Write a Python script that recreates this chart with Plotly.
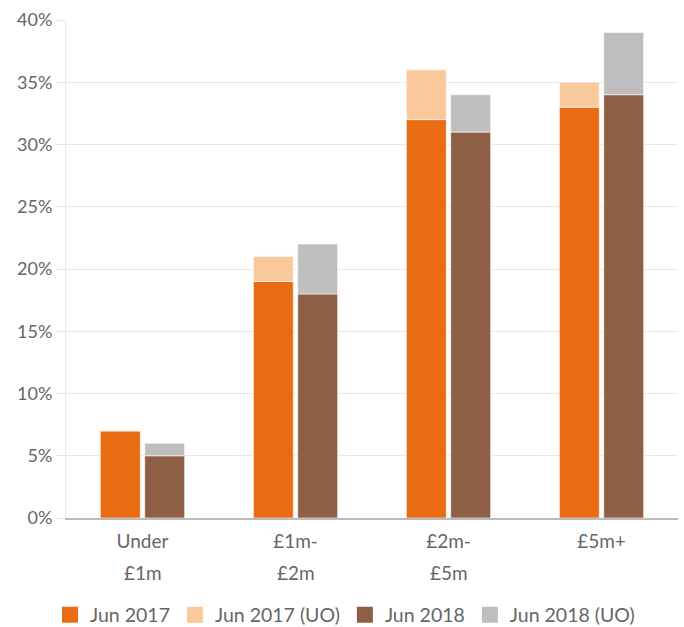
import plotly.graph_objects as go

categories = ["Under £1m", "£1m-£2m", "£2m-£5m", "£5m+"]
tick_line1 = ["Under", "£1m-", "£2m-", "£5m+"]
tick_line2 = ["£1m", "£2m", "£5m", ""]

series_names = ["Jun 2017", "Jun 2017 (UO)", "Jun 2018", "Jun 2018 (UO)"]
jun2017 = [7, 19, 32, 33]
jun2017_uo = [0, 2, 4, 2]
jun2018 = [5, 18, 31, 34]
jun2018_uo = [1, 4, 3, 5]

colors = ["#E96B12", "#F9C99B", "#8E5F44", "#BEBEBE"]

FONT = "Lato, 'Open Sans', sans-serif"
TXT = "#666666"
outline = dict(color="rgba(255,255,255,0.6)", width=1)

fig = go.Figure()
fig.add_bar(x=categories, y=jun2017, name=series_names[0], offsetgroup="a",
            marker=dict(color=colors[0], line=outline), showlegend=False)
fig.add_bar(x=categories, y=jun2017_uo, name=series_names[1], offsetgroup="a",
            base=jun2017, marker=dict(color=colors[1], line=outline), showlegend=False)
fig.add_bar(x=categories, y=jun2018, name=series_names[2], offsetgroup="b",
            marker=dict(color=colors[2], line=outline), showlegend=False)
fig.add_bar(x=categories, y=jun2018_uo, name=series_names[3], offsetgroup="b",
            base=jun2018, marker=dict(color=colors[3], line=outline), showlegend=False)

# legend entries with larger square swatches
for n, c in zip(series_names, colors):
    fig.add_scatter(x=[None], y=[None], mode="markers", name=n,
                    marker=dict(symbol="square", size=20, color=c), showlegend=True)

for c, t in zip(categories, tick_line2):
    if t:
        fig.add_annotation(x=c, y=0, xref="x", yref="y", text=t, showarrow=False,
                           yshift=-54, font=dict(family=FONT, size=19, color=TXT))

fig.update_layout(
    width=684, height=627,
    margin=dict(l=66, r=6, t=20, b=109, autoexpand=False),
    paper_bgcolor="white", plot_bgcolor="white",
    barmode="group", bargap=0.42, bargroupgap=0.1,
    font=dict(family=FONT, size=19, color=TXT),
    legend=dict(orientation="h", xref="container", x=50 / 684, xanchor="left",
                yref="container", y=(627 - 615) / 627, yanchor="middle",
                font=dict(size=19.5, color=TXT),
                traceorder="normal", itemwidth=30),
    xaxis=dict(tickvals=categories, ticktext=tick_line1, showline=True,
               linecolor="#BBBBBB", linewidth=1.5, ticks="", showgrid=False,
               ticklabelstandoff=5, tickfont=dict(size=19, color=TXT)),
    yaxis=dict(range=[0, 40], dtick=5, ticksuffix="%", showgrid=True,
               gridcolor="#E8E8E8", gridwidth=1, zeroline=False,
               showline=True, linecolor="#E8E8E8",
               ticks="outside", ticklen=9, tickcolor="#E8E8E8",
               tickfont=dict(size=18, color=TXT)),
)

fig.write_html("out.html", config={"displayModeBar": False},
               post_script="document.body.style.margin='0';")
